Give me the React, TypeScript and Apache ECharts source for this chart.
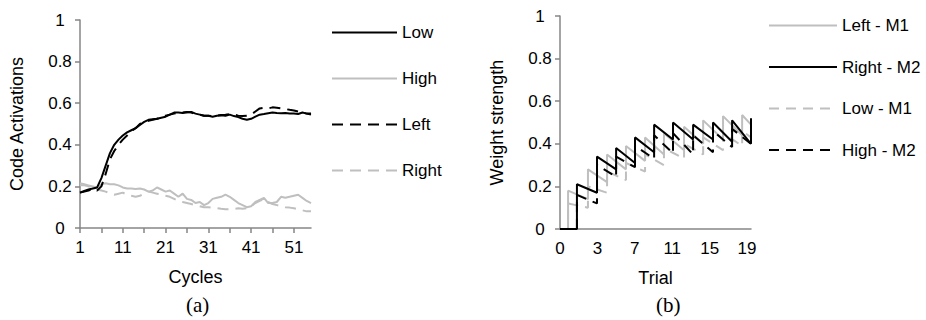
import React, { useEffect, useRef } from "react";
import * as echarts from "echarts";

// ---------- Panel (a): code activations over cycles ----------
const cycles: string[] = Array.from({ length: 55 }, (_, i) => String(i + 1));

const lowVals = [
  0.17, 0.178, 0.185, 0.19, 0.195, 0.24, 0.3, 0.36, 0.4, 0.425,
  0.445, 0.46, 0.47, 0.48, 0.495, 0.51, 0.52, 0.523, 0.525, 0.53,
  0.535, 0.545, 0.555, 0.555, 0.553, 0.556, 0.558, 0.55, 0.545, 0.54,
  0.54, 0.535, 0.54, 0.542, 0.54, 0.545, 0.538, 0.533, 0.525, 0.52,
  0.525, 0.535, 0.545, 0.548, 0.552, 0.555, 0.553, 0.552, 0.553, 0.55,
  0.55, 0.548, 0.555, 0.55, 0.55,
];
const highVals = [
  0.215, 0.21, 0.205, 0.2, 0.195, 0.21, 0.215, 0.21, 0.21, 0.205,
  0.195, 0.19, 0.19, 0.188, 0.19, 0.185, 0.175, 0.18, 0.195, 0.185,
  0.175, 0.18, 0.165, 0.15, 0.165, 0.14, 0.135, 0.12, 0.125, 0.11,
  0.12, 0.14, 0.145, 0.15, 0.16, 0.15, 0.135, 0.12, 0.11, 0.1,
  0.105, 0.125, 0.135, 0.145, 0.12, 0.12, 0.125, 0.15, 0.145, 0.15,
  0.155, 0.16, 0.145, 0.13, 0.12,
];
const leftVals = [
  0.17, 0.175, 0.18, 0.19, 0.18, 0.2, 0.26, 0.33, 0.37, 0.4,
  0.425, 0.445, 0.465, 0.48, 0.5, 0.51, 0.515, 0.52, 0.525, 0.53,
  0.54, 0.545, 0.55, 0.553, 0.555, 0.558, 0.555, 0.548, 0.545, 0.54,
  0.54, 0.538, 0.54, 0.543, 0.545, 0.548, 0.545, 0.54, 0.538, 0.54,
  0.545, 0.56, 0.575, 0.578, 0.575, 0.58, 0.578, 0.575, 0.572, 0.568,
  0.565, 0.56, 0.555, 0.55, 0.545,
];
const rightVals = [
  0.205, 0.205, 0.2, 0.2, 0.185, 0.18, 0.175, 0.165, 0.16, 0.165,
  0.17, 0.16, 0.155, 0.15, 0.155, 0.165, 0.175, 0.17, 0.165, 0.16,
  0.155, 0.15, 0.14, 0.13, 0.125, 0.12, 0.115, 0.11, 0.105, 0.1,
  0.1, 0.098, 0.095, 0.092, 0.09, 0.09, 0.092, 0.095, 0.093, 0.095,
  0.105, 0.12, 0.13, 0.14, 0.125, 0.115, 0.11, 0.105, 0.1, 0.098,
  0.095, 0.09, 0.085, 0.08, 0.08,
];

// ---------- Panel (b): weight strength over trials (step units) ----------
const trialTicks = ["0", "3", "7", "11", "15", "19"];
const trialTickStep = 19;
const trialEnd = 97;

const m2Rises = [8.6, 18.8, 28.5, 38.1, 47.8, 57.4, 67.6, 77.7, 87.4, 97.0];
const m1Rises = [4.1, 14.2, 23.9, 33.5, 43.2, 52.8, 63.0, 72.7, 82.8, 92.5];

const rightM2Peaks = [0.21, 0.34, 0.38, 0.43, 0.49, 0.5, 0.49, 0.5, 0.51, 0.52];
const rightM2Troughs = [0.17, 0.28, 0.31, 0.36, 0.42, 0.42, 0.42, 0.41, 0.4];
const highM2Peaks = [0.16, 0.3, 0.34, 0.39, 0.44, 0.45, 0.44, 0.46, 0.47];
const highM2Troughs = [0.12, 0.245, 0.29, 0.33, 0.355, 0.35, 0.36, 0.385, 0.4];
const leftM1Peaks = [0.18, 0.28, 0.35, 0.39, 0.43, 0.45, 0.48, 0.51, 0.53, 0.535];
const leftM1Troughs = [0.14, 0.22, 0.28, 0.32, 0.35, 0.37, 0.4, 0.42, 0.44, 0.49];
const lowM1Peaks = [0.12, 0.2, 0.27, 0.31, 0.35, 0.38, 0.4, 0.43, 0.45, 0.46];
const lowM1Troughs = [0.1, 0.17, 0.23, 0.27, 0.3, 0.33, 0.35, 0.37, 0.39, 0.43];

function sawtooth(rises: number[], peaks: number[], troughs: number[]) {
  const pts: [number, number][] = [
    [0, 0],
    [rises[0], 0],
  ];
  for (let i = 0; i < peaks.length; i++) {
    pts.push([rises[i], peaks[i]]);
    const nextX = i + 1 < rises.length ? rises[i + 1] : trialEnd;
    if (troughs[i] !== undefined) pts.push([nextX, troughs[i]]);
  }
  return pts;
}

const SANS = "'Liberation Sans', Arial, sans-serif";
const SERIF = "'Liberation Serif', 'Times New Roman', serif";
const AXIS = "#868686";
const GRAY = "#bfbfbf";
const TXT = "#000";
const FS = 17;
const NAME_FS = 18;

export default function App() {
  const ref = useRef<HTMLDivElement>(null);

  useEffect(() => {
    if (!ref.current) return;
    const chart = echarts.init(ref.current, null, { renderer: "svg" });

    const axisLine = { show: true, lineStyle: { color: AXIS, width: 1.5 } };
    const yAxisCommon = {
      type: "value",
      min: 0,
      max: 1,
      interval: 0.2,
      splitLine: { show: false },
      axisLine,
      axisTick: { show: true, length: 5, lineStyle: { color: AXIS, width: 1.5 } },
      axisLabel: { color: TXT, fontSize: FS, fontFamily: SANS, align: "center", margin: 20 },
      nameLocation: "middle",
      nameTextStyle: { color: TXT, fontSize: NAME_FS, fontFamily: SANS },
    };

    const legendCommon = {
      orient: "vertical",
      padding: 0,
      itemHeight: 18,
      itemStyle: { opacity: 0 },
      textStyle: { color: TXT, fontSize: FS, fontFamily: SANS },
    };

    const option: any = {
      animation: false,
      textStyle: { fontFamily: SANS },
      grid: [
        { left: 80, top: 20, width: 231, height: 208 },
        { left: 560, top: 16, width: 191, height: 213 },
      ],
      xAxis: [
        {
          gridIndex: 0,
          type: "category",
          data: cycles,
          boundaryGap: false,
          axisLine,
          axisTick: { show: true, interval: 4, length: 5, lineStyle: { color: AXIS, width: 1.5 } },
          axisLabel: { interval: 9, color: TXT, fontSize: FS, fontFamily: SANS, margin: 11 },
          name: "Cycles",
          nameLocation: "middle",
          nameGap: 40,
          nameTextStyle: { color: TXT, fontSize: NAME_FS, fontFamily: SANS },
        },
        {
          gridIndex: 1,
          type: "value",
          min: 0,
          max: trialEnd,
          interval: trialTickStep,
          splitLine: { show: false },
          axisLine,
          axisTick: { show: false },
          axisLabel: {
            color: TXT,
            fontSize: FS,
            fontFamily: SANS,
            margin: 11,
            formatter: (v: number) => {
              const i = v / trialTickStep;
              return Number.isInteger(i) && trialTicks[i] !== undefined ? trialTicks[i] : "";
            },
          },
          name: "Trial",
          nameLocation: "middle",
          nameGap: 40,
          nameTextStyle: { color: TXT, fontSize: NAME_FS, fontFamily: SANS },
        },
      ],
      yAxis: [
        { ...yAxisCommon, gridIndex: 0, name: "Code Activations", nameGap: 54 },
        { ...yAxisCommon, gridIndex: 1, name: "Weight strength", nameGap: 54 },
      ],
      legend: [
        {
          ...legendCommon,
          left: 331,
          top: 24,
          itemWidth: 65,
          itemGap: 29,
          data: ["Low", "High", "Left", "Right"],
        },
        {
          ...legendCommon,
          left: 768,
          top: 17,
          itemWidth: 68,
          itemGap: 24.5,
          data: ["Left - M1", "Right - M2", "Low - M1", "High - M2"],
        },
      ],
      graphic: [
        {
          type: "text",
          left: 186,
          top: 294,
          style: { text: "(a)", fontSize: 21, fontFamily: SERIF, fill: TXT },
        },
        {
          type: "text",
          left: 656,
          top: 294,
          style: { text: "(b)", fontSize: 21, fontFamily: SERIF, fill: TXT },
        },
      ],
      series: [
        {
          name: "Low", type: "line", xAxisIndex: 0, yAxisIndex: 0, data: lowVals,
          symbol: "none", z: 5, lineStyle: { color: "#000", width: 2 }, itemStyle: { color: "#000" },
        },
        {
          name: "High", type: "line", xAxisIndex: 0, yAxisIndex: 0, data: highVals,
          symbol: "none", z: 3, lineStyle: { color: GRAY, width: 2 }, itemStyle: { color: GRAY },
        },
        {
          name: "Left", type: "line", xAxisIndex: 0, yAxisIndex: 0, data: leftVals,
          symbol: "none", z: 4, lineStyle: { color: "#000", width: 2, type: [11, 7] }, itemStyle: { color: "#000" },
        },
        {
          name: "Right", type: "line", xAxisIndex: 0, yAxisIndex: 0, data: rightVals,
          symbol: "none", z: 2, lineStyle: { color: GRAY, width: 2, type: [11, 7] }, itemStyle: { color: GRAY },
        },
        {
          name: "Left - M1", type: "line", xAxisIndex: 1, yAxisIndex: 1,
          data: sawtooth(m1Rises, leftM1Peaks, leftM1Troughs),
          symbol: "none", z: 3, lineStyle: { color: GRAY, width: 2 }, itemStyle: { color: GRAY },
        },
        {
          name: "Right - M2", type: "line", xAxisIndex: 1, yAxisIndex: 1,
          data: sawtooth(m2Rises, rightM2Peaks, rightM2Troughs),
          symbol: "none", z: 5, lineStyle: { color: "#000", width: 2 }, itemStyle: { color: "#000" },
        },
        {
          name: "Low - M1", type: "line", xAxisIndex: 1, yAxisIndex: 1,
          data: sawtooth(m1Rises, lowM1Peaks, lowM1Troughs),
          symbol: "none", z: 2, lineStyle: { color: GRAY, width: 2, type: [10, 7] }, itemStyle: { color: GRAY },
        },
        {
          name: "High - M2", type: "line", xAxisIndex: 1, yAxisIndex: 1,
          data: sawtooth(m2Rises, highM2Peaks, highM2Troughs),
          symbol: "none", z: 4, lineStyle: { color: "#000", width: 2, type: [10, 7] }, itemStyle: { color: "#000" },
        },
      ],
    };

    chart.setOption(option);
    return () => chart.dispose();
  }, []);

  return (
    <div
      ref={ref}
      style={{ position: "fixed", left: 0, top: 0, width: 926, height: 320, background: "#fff" }}
    />
  );
}
